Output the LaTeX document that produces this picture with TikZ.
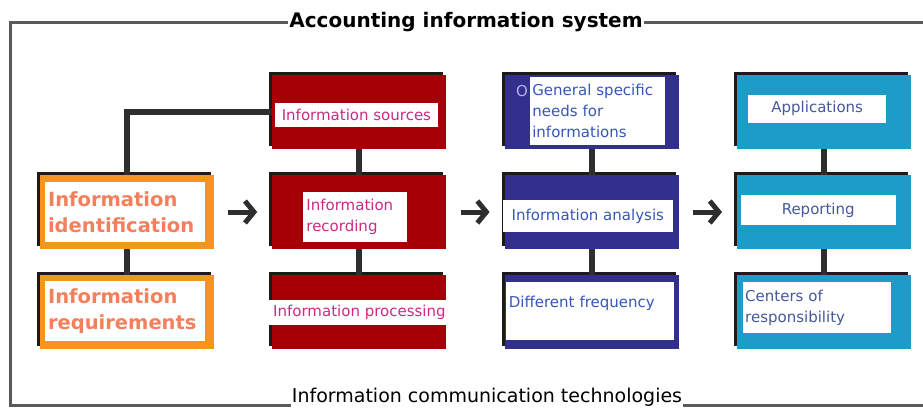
\documentclass[tikz,border=0pt]{standalone}
\usepackage{fontspec}
\setmainfont{DejaVu Sans}
\usepackage{xcolor}
\definecolor{aisorange}{HTML}{F2961E}
\definecolor{aisred}{HTML}{A60006}
\definecolor{aisnavy}{HTML}{332F8C}
\definecolor{aiscyan}{HTML}{1E9CC8}
\definecolor{aisshadow}{HTML}{1E1A18}
\definecolor{aisframe}{HTML}{5A5A5A}
\definecolor{aislink}{HTML}{2E2E2E}
\definecolor{txtorange}{HTML}{F3805C}
\definecolor{txtpink}{HTML}{CC2A84}
\definecolor{txtblue}{HTML}{3557B8}
\definecolor{txtslate}{HTML}{46589A}
\definecolor{txtlilac}{HTML}{B8B0F0}
\usepackage{tikz}
\usetikzlibrary{arrows.meta,positioning,shadows}

\begin{document}
\begin{tikzpicture}[x=1pt, y=-1pt,
  box/.style={fill=#1, minimum width=174pt, minimum height=74pt, inner sep=0pt,
              general shadow={fill=aisshadow, shadow xshift=-3pt, shadow yshift=3pt}},
  lbl/.style={fill=white, inner sep=0pt, align=left,
              font=\fontsize{15}{21}\selectfont},
  big/.style={lbl, text width=154pt, minimum height=60pt, inner xsep=3pt,
              font=\fontsize{19.5}{26}\selectfont\bfseries, text=txtorange},
  link/.style={line width=6pt, color=aislink},
  arr/.style={-{Straight Barb[length=9pt, width=22pt]}, line width=5pt,
              color=aislink, shorten <=14pt, shorten >=15pt},
  frame/.style={line width=3pt, color=aisframe},
  head/.style={fill=white, inner xsep=1pt, inner ysep=2pt, text=black},
  node distance=26pt and 58pt
]
  \useasboundingbox (0,0) rectangle (923,410);
  \draw[frame] (10,22) rectangle (940,405);
  \node[head, font=\bfseries\fontsize{20}{24}\selectfont] (ais) at (466,22) {Accounting information system};
  \node[head, font=\fontsize{19}{22}\selectfont, inner ysep=1pt] (ict) at (487,397) {Information communication technologies};

  \node[box=aisorange] (ident) at (127,212) {};
  \node[box=aisorange, below=of ident] (req) {};
  \node[box=aisred, right=of ident] (rec) {};
  \node[box=aisred, above=of rec] (src) {};
  \node[box=aisred, below=of rec] (proc) {};
  \node[box=aisnavy, right=of rec] (anal) {};
  \node[box=aisnavy, above=of anal] (needs) {};
  \node[box=aisnavy, below=of anal] (freq) {};
  \node[box=aiscyan, right=of anal] (rep) {};
  \node[box=aiscyan, above=of rep] (appl) {};
  \node[box=aiscyan, below=of rep] (resp) {};

  \draw[link] (ident.north) |- (src.west);
  \draw[link] (ident) -- (req);
  \draw[link] (src) -- (rec);
  \draw[link] (rec) -- (proc);
  \draw[link] (needs) -- (anal);
  \draw[link] (anal) -- (freq);
  \draw[link] (appl) -- (rep);
  \draw[link] (rep) -- (resp);
  \draw[arr] (ident) -- (rec);
  \draw[arr] (rec) -- (anal);
  \draw[arr] (anal) -- (rep);

  \node[big, xshift=-2pt] (ident-t) at (ident) {Information\\identification};
  \node[big, xshift=-2pt, yshift=1pt] (req-t) at (req) {Information\\requirements};

  \node[lbl, text=txtpink, minimum width=163pt, minimum height=24pt, xshift=-3pt, yshift=-3pt] (src-t) at (src) {Information sources};
  \node[lbl, text=txtpink, text width=98pt, minimum height=50pt, inner xsep=3pt, xshift=-4pt, yshift=-5pt] (rec-t) at (rec) {Information\\recording};
  \node[lbl, text=txtpink, minimum width=185pt, minimum height=25pt] (proc-t) at (proc) {Information processing};

  \node[text=txtlilac, font=\fontsize{15}{18}\selectfont, inner sep=0pt] (needs-o) at (522,91) {O};
  \node[lbl, text=txtblue, text width=131pt, minimum height=68pt, inner xsep=2pt, xshift=6pt, yshift=1pt] (needs-t) at (needs) {General specific\\needs for\\informations};
  \node[lbl, text=txtblue, minimum width=170pt, minimum height=32pt, xshift=-4pt, yshift=-4pt] (anal-t) at (anal) {Information analysis};
  \node[lbl, text=txtblue, text width=162pt, inner xsep=3pt, text height=25pt, text depth=33pt, xshift=-2pt, yshift=1pt] (freq-t) at (freq) {Different frequency};

  \node[lbl, text=txtslate, minimum width=138pt, minimum height=28pt, xshift=-7pt, yshift=3pt] (appl-t) at (appl) {Applications};
  \node[lbl, text=txtslate, minimum width=155pt, minimum height=30pt, xshift=-6pt, yshift=2pt] (rep-t) at (rep) {Reporting};
  \node[lbl, text=txtslate, text width=144pt, minimum height=51pt, inner xsep=2pt, xshift=-7pt, yshift=5pt] (resp-t) at (resp) {Centers of\\responsibility};
\end{tikzpicture}
\end{document}
